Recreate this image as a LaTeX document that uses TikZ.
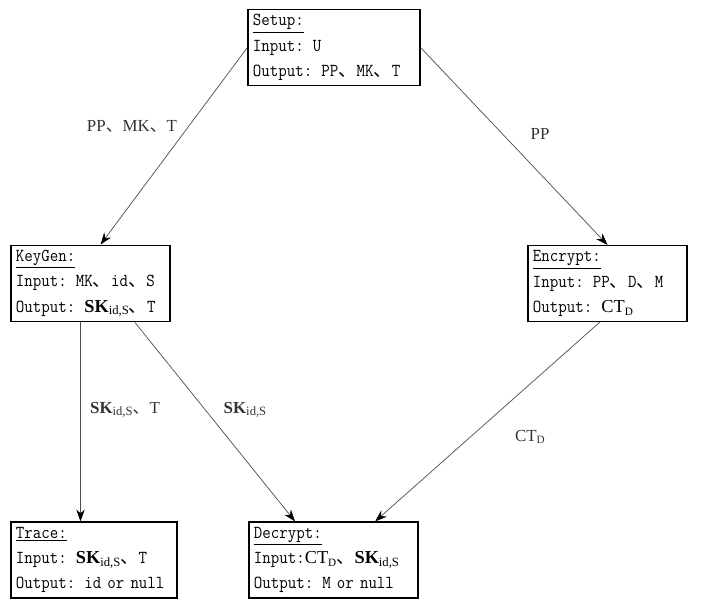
\documentclass[tikz,border=0pt]{standalone}
\usepackage{fontspec}
\setmainfont{Latin Modern Mono}[FakeStretch=0.9]
\newfontfamily\timesfont{Liberation Serif}
\newfontfamily\cjk{Noto Sans CJK SC}
\usetikzlibrary{calc,arrows.meta}

\newcommand{\dunhao}{{\cjk 、}}
\newcommand{\skid}{{\timesfont\bfseries SK}\raisebox{-0.35ex}{\timesfont\fontsize{9}{9}\selectfont id,S}}
\newcommand{\ctd}{{\timesfont CT}\raisebox{-0.35ex}{\timesfont\fontsize{8}{8}\selectfont D}}

\tikzset{
    algbox/.style={draw, line width=0.8pt, align=left, inner sep=0.125cm,
        text width=#1, minimum height=1.9cm, font=\fontsize{13}{18}\selectfont},
    flow/.style={draw=black!70, line width=0.5pt, -{Stealth[length=8.5pt,width=6pt,color=black]}},
    flowlabel/.style={font=\timesfont\fontsize{12}{14}\selectfont, text=black!80}
}

\begin{document}
\begin{tikzpicture}[x=0.025cm,y=-0.025cm]
    \useasboundingbox (0,0) rectangle (707,600);

    % box centres
    \coordinate (S) at (334,47.5);
    \coordinate (K) at (90.5,283.5);
    \coordinate (E) at (607.5,283.5);
    \coordinate (T) at (94,560);
    \coordinate (D) at (333.5,560);

    \node[algbox=4.05cm] (setup) at (S) {\underline{Setup:}\\Input: U\\Output: PP\dunhao MK\dunhao T};
    \node[algbox=3.725cm] (keygen) at (K) {\underline{KeyGen:}\\Input: MK\dunhao id\dunhao S\\Output: \skid\dunhao T};
    \node[algbox=3.725cm] (encrypt) at (E) {\underline{Encrypt:}\\Input: PP\dunhao D\dunhao M\\Output: \ctd};
    \node[algbox=3.9cm] (trace) at (T) {\underline{Trace:}\\Input: \skid\dunhao T\\Output: id or null};
    \node[algbox=3.975cm] (decrypt) at (D) {\underline{Decrypt:}\\Input:\ctd\dunhao \skid\\Output: M or null};

    % connectors
    \draw[flow] (setup.west) -- ([xshift=0.25cm]keygen.north);
    \draw[flow] (setup.east) -- (encrypt.north);
    \draw[flow] ([xshift=-0.25cm]keygen.south) -- ([xshift=-0.25cm]keygen.south |- trace.north);
    \draw[flow] ([xshift=1.11cm]keygen.south) -- ([xshift=-0.96cm]decrypt.north);
    \draw[flow] ([xshift=-0.19cm]encrypt.south) -- ([xshift=1.04cm]decrypt.north);

    % labels
    \node[flowlabel] (l1) at (132,126) {PP\dunhao MK\dunhao T};
    \node[flowlabel] (l2) at (540,134) {PP};
    \node[flowlabel] (l3) at (125,410) {\skid\dunhao T};
    \node[flowlabel] (l4) at (245,410) {\skid};
    \node[flowlabel] (l5) at (530,437) {\ctd};
\end{tikzpicture}
\end{document}
